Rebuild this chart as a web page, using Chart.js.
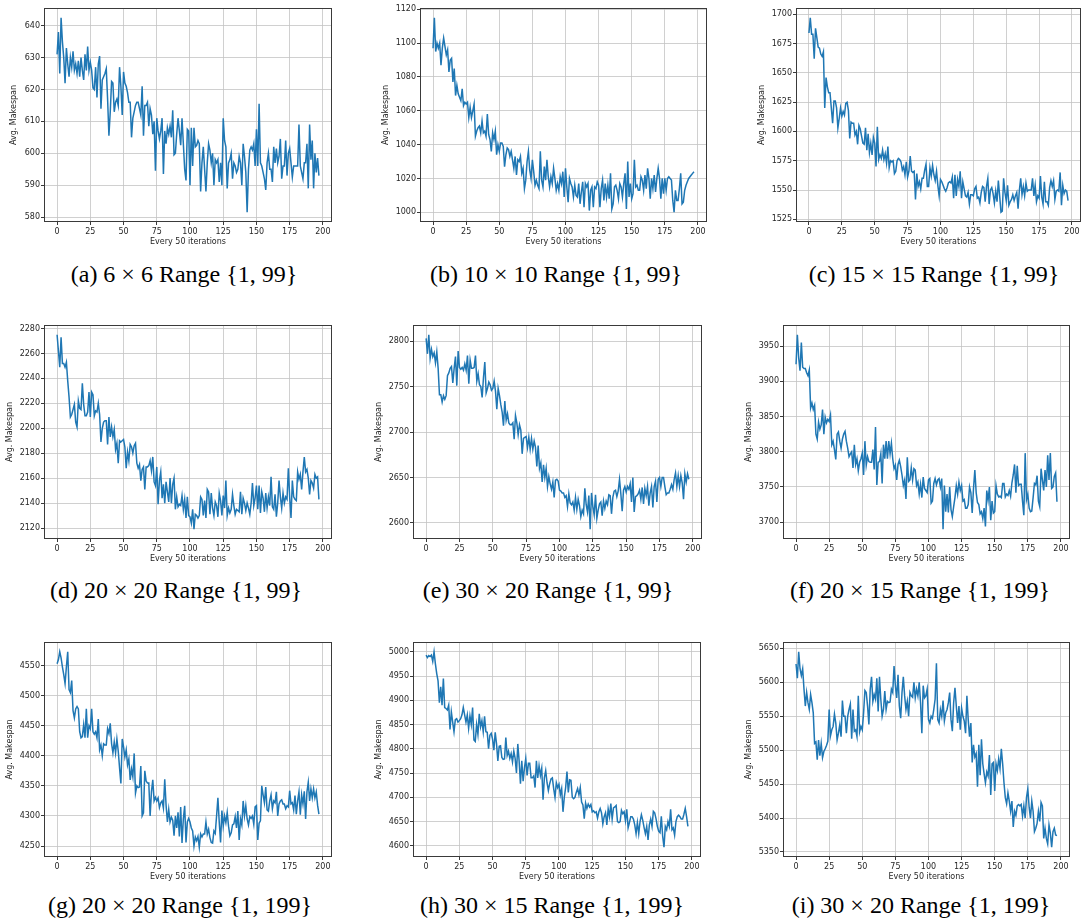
<!DOCTYPE html>
<html><head><meta charset="utf-8">
<script src="https://cdn.jsdelivr.net/npm/chart.js@4.4.1/dist/chart.umd.min.js"></script>
<style>
html,body{margin:0;padding:0;background:#fff;}
#fig{position:relative;width:1084px;height:924px;overflow:hidden;background:#fff;}
canvas{position:absolute;}
.cap{position:absolute;width:400px;text-align:center;font-family:'Liberation Serif','Times New Roman',serif;font-size:24px;line-height:24px;color:#000;white-space:nowrap;}
</style></head><body><div id="fig"></div>
<script>
const xTicks=[0,25,50,75,100,125,150,175,200];

const aValues=[631,638,625,642.5,635,630,622,633,628,624,
630,627,632,626,628,625,629,624,630,626,
623,631,626,633.5,626,628.5,626,620.5,620,627,
617.5,628,630.5,614,623,624,625,626.5,617,605.5,
613,622.5,622,613,616,617,615,627,621,612,
625.5,622,621,619,616,616,605,611,613,615,
616,616,614,612,621,605.5,615,615,616,608.5,
614,612,606,610,594.5,611,607,604.5,607,611,
593.5,607,603,608,606,608.5,605,613.5,599.5,600,
606,611,607,602.5,611,603,595,591.5,607.5,607,
590,608,596,608,602,602.5,604,603,588,597,
602,595,588,597,603,601,597,600,590,598,
597,598,591,597,590,611,604,602,589,597,
598,600,592,597,596,594,595,599,597,590,
603,599,594,581.5,595,601,602,601,603,596,
607.5,596,615.5,597,596,594,592,588.5,597,600,
595,595,591,602,597,601.5,597,599,604.5,592,
596,596,604,593,600,601.5,597,592.5,596,596,
596,596,609,596,594,592,597,597,603,589,
609,598,604,589,600,594,598.5,593];

const bValues=[1097,1115,1095,1100,1097,1100,1087,1097,1103,1098,
1093,1096,1083,1090,1091,1077,1085,1069,1075,1070,
1068,1066,1073,1063,1065,1064,1065,1056,1062,1056,
1060,1064,1045,1048,1050,1051,1047,1054,1047,1048,
1045,1058,1046,1043,1036,1047,1043,1048,1034,1040,
1036,1041,1041,1039,1027,1034,1038,1037,1033,1036,
1031,1026,1033,1022,1031,1030,1033,1023,1026,1014,
1019,1030,1036,1025,1020,1031,1024,1016,1019,1016,
1014,1036,1019,1015,1027,1019,1031,1021,1015,1021,
1017,1026,1020,1013,1017,1013,1021,1017,1024,1009,
1026,1015,1006,1020,1017,1015,1009,1016,1010,1009,
1017,1005,1012,1018,1003,1017,1015,1017,1001,1013,
1015,1003,1015,1014,1018,1016,1003,1014,1019,1007,
1017,1009,1016,1008,1023,1002,1005,1015,1016,1013,
1008,1017,1015,1009,1017,1023,1002,1030,1009,1017,
1008,1011,1031,1015,1016,1013,1013,1021,1019,1013,
1022,1014,1026,1020,1008,1020,1014,1022,1012,1020,
1026,1020,1008,1020,1011,1020,1013,1020,1021,1020,
1019,1007,1000,1013,1007,1007,1014,1023,1005,1006,
1013,1016,1018,1020,1021,1022,1023,1024];

const cValues=[1684,1697,1683,1683,1662,1688,1680,1672,1671,1666,
1664,1668,1620,1646,1638,1633,1633,1620,1607,1626,
1626,1620,1603,1611,1620,1613,1617,1614,1624,1625,
1618,1594,1608,1607,1607,1597,1600,1589,1605,1602,
1596,1590,1589,1603,1584,1598,1582,1590,1580,1595,
1590,1570,1604,1576,1580,1577,1584,1576,1581,1573,
1587,1569,1575,1574,1575,1564,1566,1575,1577,1576,
1574,1567,1570,1563,1574,1561,1566,1579,1566,1565,
1566,1542,1564,1553,1557,1551,1560,1560,1567,1572,
1553,1553,1569,1562,1571,1563,1558,1566,1554,1545,
1559,1557,1554,1551,1549,1552,1556,1557,1556,1561,
1543,1563,1545,1559,1553,1566,1543,1557,1551,1545,
1544,1548,1538,1546,1546,1545,1551,1553,1543,1544,
1539,1548,1553,1552,1540,1553,1560,1538,1550,1552,
1547,1539,1549,1540,1558,1545,1531,1532,1560,1548,
1541,1554,1537,1540,1542,1546,1541,1545,1548,1534,
1550,1560,1546,1553,1545,1556,1549,1550,1550,1550,
1560,1545,1554,1540,1545,1543,1562,1544,1538,1557,
1540,1540,1537,1552,1558,1553,1558,1542,1549,1550,
1549,1565,1537,1554,1547,1550,1549,1541];

const dValues=[2275,2262,2249,2273,2252,2252,2249,2253,2238,2225,
2209,2211,2215,2219,2205,2201,2222,2216,2215,2236,
2219,2210,2210,2213,2229,2209,2229,2227,2210,2214,
2213,2220,2211,2189,2200,2205,2206,2206,2187,2209,
2193,2201,2193,2199,2183,2188,2172,2190,2189,2190,
2191,2185,2168,2181,2174,2187,2185,2180,2186,2188,
2172,2168,2171,2158,2167,2169,2151,2169,2169,2170,
2174,2166,2177,2157,2154,2169,2139,2158,2165,2144,
2155,2140,2157,2149,2141,2160,2140,2155,2160,2135,
2145,2137,2139,2138,2146,2135,2143,2128,2145,2130,
2129,2124,2135,2119,2131,2130,2128,2130,2145,2143,
2130,2142,2128,2151,2149,2131,2148,2136,2130,2141,
2138,2129,2148,2142,2130,2146,2136,2158,2130,2136,
2132,2135,2147,2138,2131,2135,2134,2133,2149,2131,
2144,2140,2134,2140,2136,2131,2140,2156,2138,2144,
2154,2135,2154,2132,2149,2144,2133,2148,2136,2145,
2138,2161,2137,2135,2147,2129,2140,2158,2145,2136,
2148,2140,2145,2143,2168,2145,2128,2158,2145,2143,
2142,2165,2159,2163,2151,2165,2177,2165,2167,2160,
2147,2158,2156,2152,2163,2160,2161,2143];

const eValues=[2803,2786,2807,2781,2791,2783,2787,2776,2788,2770,
2741,2741,2733,2740,2736,2740,2762,2765,2770,2772,
2754,2770,2783,2751,2789,2771,2769,2771,2768,2775,
2768,2784,2753,2779,2770,2770,2771,2784,2756,2764,
2752,2750,2738,2760,2777,2743,2748,2755,2752,2746,
2748,2756,2745,2725,2748,2740,2730,2722,2707,2734,
2713,2720,2710,2708,2708,2710,2692,2718,2710,2697,
2708,2702,2676,2693,2694,2695,2683,2694,2681,2693,
2681,2690,2683,2662,2685,2660,2666,2645,2664,2650,
2660,2640,2651,2643,2637,2645,2628,2647,2648,2646,
2636,2635,2633,2633,2628,2630,2618,2632,2622,2620,
2623,2614,2628,2615,2626,2619,2607,2614,2610,2638,
2620,2612,2630,2593,2633,2618,2609,2631,2605,2614,
2621,2623,2608,2624,2616,2624,2620,2631,2630,2610,
2628,2635,2636,2629,2635,2648,2632,2613,2636,2640,
2634,2640,2637,2643,2623,2650,2612,2629,2630,2632,
2636,2626,2639,2621,2638,2630,2640,2619,2633,2640,
2617,2640,2646,2623,2648,2650,2640,2650,2650,2640,
2631,2633,2633,2637,2642,2637,2648,2655,2640,2652,
2640,2652,2644,2626,2654,2645,2654,2648];

const fValues=[3924,3966,3933,3915,3955,3920,3918,3918,3912,3908,
3916,3862,3869,3860,3866,3825,3818,3842,3832,3838,
3860,3825,3849,3841,3846,3843,3852,3810,3815,3803,
3789,3825,3828,3815,3805,3818,3825,3829,3815,3805,
3793,3797,3800,3777,3810,3782,3790,3773,3785,3790,
3798,3767,3815,3781,3793,3786,3785,3785,3803,3775,
3835,3753,3785,3786,3797,3755,3810,3790,3815,3790,
3815,3797,3812,3790,3776,3781,3760,3782,3788,3779,
3767,3752,3760,3733,3792,3758,3760,3777,3760,3776,
3774,3752,3757,3740,3754,3735,3764,3748,3745,3742,
3760,3762,3727,3730,3755,3762,3753,3760,3762,3750,
3762,3690,3752,3715,3740,3714,3750,3718,3708,3722,
3735,3752,3740,3757,3745,3752,3730,3732,3720,3720,
3725,3750,3742,3713,3748,3774,3742,3728,3725,3712,
3715,3705,3720,3694,3745,3731,3750,3703,3730,3713,
3715,3752,3740,3736,3737,3735,3755,3755,3736,3740,
3738,3745,3737,3756,3767,3782,3742,3780,3752,3754,
3754,3730,3710,3798,3732,3740,3720,3715,3716,3735,
3755,3753,3766,3730,3722,3776,3760,3745,3774,3750,
3795,3760,3798,3748,3750,3765,3770,3729];

const gValues=[4553,4560,4573,4563,4548,4535,4520,4548,4573,4510,
4505,4525,4475,4463,4478,4482,4478,4440,4430,4432,
4452,4430,4478,4430,4450,4445,4478,4440,4436,4440,
4430,4461,4410,4418,4400,4420,4418,4418,4445,4437,
4454,4420,4405,4423,4405,4428,4408,4380,4354,4428,
4415,4398,4410,4385,4395,4360,4378,4365,4404,4338,
4350,4347,4348,4383,4300,4305,4375,4358,4355,4355,
4300,4340,4360,4325,4331,4325,4330,4314,4322,4325,
4313,4361,4318,4290,4311,4290,4298,4293,4267,4300,
4280,4306,4266,4315,4255,4295,4317,4256,4290,4296,
4290,4280,4275,4250,4265,4259,4266,4248,4270,4265,
4270,4270,4290,4270,4278,4264,4256,4255,4275,4271,
4300,4330,4290,4256,4309,4283,4300,4289,4306,4283,
4267,4272,4285,4287,4299,4280,4308,4260,4295,4285,
4325,4300,4317,4295,4285,4299,4296,4300,4286,4315,
4317,4260,4288,4292,4350,4335,4322,4348,4310,4308,
4325,4335,4312,4325,4322,4340,4300,4320,4325,4327,
4320,4320,4312,4317,4315,4342,4320,4322,4310,4334,
4303,4325,4340,4302,4335,4320,4341,4295,4340,4356,
4325,4345,4330,4345,4330,4340,4318,4303];

const hValues=[4993,4988,4992,4990,4993,4980,5000,4975,4955,4940,
4895,4928,4890,4945,4885,4883,4880,4890,4840,4876,
4855,4835,4860,4862,4855,4858,4862,4870,4885,4870,
4855,4870,4842,4868,4850,4885,4818,4815,4850,4830,
4872,4845,4858,4835,4867,4835,4834,4800,4828,4832,
4820,4797,4834,4810,4775,4805,4806,4782,4778,4779,
4823,4786,4795,4780,4790,4773,4795,4780,4750,4810,
4775,4728,4775,4733,4760,4780,4745,4770,4770,4740,
4740,4744,4720,4775,4740,4765,4745,4760,4695,4740,
4755,4730,4714,4728,4738,4740,4718,4700,4730,4720,
4727,4705,4718,4670,4700,4720,4753,4710,4736,4735,
4700,4697,4700,4710,4718,4705,4720,4690,4684,4656,
4688,4677,4686,4680,4685,4670,4672,4668,4670,4657,
4670,4677,4668,4645,4660,4668,4643,4676,4660,4687,
4655,4678,4680,4683,4650,4648,4650,4673,4666,4670,
4652,4675,4637,4648,4660,4660,4655,4643,4625,4648,
4625,4650,4664,4653,4638,4625,4640,4612,4643,4655,
4640,4671,4668,4656,4640,4630,4627,4661,4620,4597,
4640,4633,4650,4640,4675,4633,4637,4622,4650,4660,
4663,4660,4655,4655,4665,4677,4660,4640];

const iValues=[5627,5606,5645,5620,5610,5620,5590,5565,5585,5570,
5560,5582,5570,5555,5510,5512,5486,5515,5492,5510,
5489,5498,5502,5507,5513,5560,5521,5530,5535,5553,
5540,5515,5525,5537,5520,5573,5550,5550,5525,5550,
5560,5568,5517,5560,5528,5530,5520,5580,5527,5535,
5530,5555,5588,5585,5565,5538,5590,5608,5572,5582,
5575,5606,5557,5608,5575,5550,5560,5587,5560,5572,
5570,5571,5590,5585,5624,5595,5577,5611,5565,5547,
5585,5608,5580,5560,5572,5550,5585,5580,5578,5600,
5577,5590,5580,5600,5570,5525,5595,5577,5580,5590,
5545,5540,5550,5547,5560,5575,5628,5545,5540,5560,
5550,5573,5543,5555,5560,5570,5585,5545,5528,5570,
5592,5565,5540,5565,5530,5562,5550,5543,5525,5580,
5545,5520,5540,5482,5508,5490,5495,5446,5508,5463,
5516,5480,5465,5452,5468,5462,5493,5434,5480,5482,
5440,5480,5470,5487,5473,5502,5480,5452,5430,5421,
5437,5425,5410,5425,5387,5410,5404,5418,5420,5418,
5420,5403,5418,5400,5430,5443,5416,5400,5425,5410,
5380,5385,5392,5410,5395,5423,5418,5370,5385,5370,
5362,5390,5378,5357,5380,5385,5375,5374];

const aYTicks=[580,590,600,610,620,630,640];
const bYTicks=[1000,1020,1040,1060,1080,1100,1120];
const cYTicks=[1525,1550,1575,1600,1625,1650,1675,1700];
const dYTicks=[2120,2140,2160,2180,2200,2220,2240,2260,2280];
const eYTicks=[2600,2650,2700,2750,2800];
const fYTicks=[3700,3750,3800,3850,3900,3950];
const gYTicks=[4250,4300,4350,4400,4450,4500,4550];
const hYTicks=[4600,4650,4700,4750,4800,4850,4900,4950,5000];
const iYTicks=[5350,5400,5450,5500,5550,5600,5650];

const captions=[
 '(a) 6 × 6 Range {1, 99}','(b) 10 × 10 Range {1, 99}','(c) 15 × 15 Range {1, 99}',
 '(d) 20 × 20 Range {1, 99}','(e) 30 × 20 Range {1, 99}','(f) 20 × 15 Range {1, 199}',
 '(g) 20 × 20 Range {1, 199}','(h) 30 × 15 Range {1, 199}','(i) 30 × 20 Range {1, 199}'];
const xTitle='Every 50 iterations';
const yTitle='Avg. Makespan';

// layout (plot-area boxes and caption anchors)
const layout=[
 {vals:aValues,yt:aYTicks,L:44,R:332,T:8,B:222,tp:9.2,cx:184,cy:282},
 {vals:bValues,yt:bYTicks,L:420,R:707,T:8,B:222,tp:5.2,cx:556,cy:282},
 {vals:cValues,yt:cYTicks,L:796,R:1081,T:8,B:222,tp:5.2,cx:934,cy:282},
 {vals:dValues,yt:dYTicks,L:44,R:332,T:325,B:539,tp:5.2,cx:176,cy:598},
 {vals:eValues,yt:eYTicks,L:413,R:702,T:325,B:539,tp:5.2,cx:548,cy:598},
 {vals:fValues,yt:fYTicks,L:783,R:1070,T:325,B:539,tp:5.2,cx:920,cy:598},
 {vals:gValues,yt:gYTicks,L:44,R:332,T:642,B:857,tp:5.2,cx:180,cy:913},
 {vals:hValues,yt:hYTicks,L:413,R:701,T:642,B:857,tp:5.2,cx:552,cy:913},
 {vals:iValues,yt:iYTicks,L:783,R:1070,T:642,B:857,tp:5.2,cx:921,cy:913}
];

Chart.defaults.font.family="'DejaVu Sans', sans-serif";
Chart.defaults.font.size=8;
Chart.defaults.color='#262626';

const framePlugin={id:'frame',afterDatasetsDraw(chart){
  const a=chart.chartArea,c=chart.ctx;c.save();c.strokeStyle='#3a3a3a';c.lineWidth=1;
  c.strokeRect(Math.round(a.left)+0.5,Math.round(a.top)+0.5,Math.round(a.right-a.left)-1,Math.round(a.bottom-a.top)-1);
  c.restore();}};

const fig=document.getElementById('fig');
const YW=44, XH=25, PT=4, PR=3;
layout.forEach((p,k)=>{
  const cv=document.createElement('canvas');
  const w=p.R-p.L+YW+PR, h=p.B-p.T+PT+XH;
  cv.width=w;cv.height=h;cv.style.width=w+'px';cv.style.height=h+'px';
  cv.style.left=(p.L-YW)+'px';cv.style.top=(p.T-PT)+'px';
  fig.appendChild(cv);
  const mn=Math.min(...p.vals), mx=Math.max(...p.vals), rg=mx-mn;
  const n=p.vals.length-1;
  new Chart(cv.getContext('2d'),{
    type:'line',
    data:{datasets:[{data:p.vals.map((v,i)=>({x:i,y:v})),borderColor:'#1f77b4',borderWidth:1.5,pointRadius:0,tension:0,fill:false}]},
    options:{responsive:false,animation:false,devicePixelRatio:1,
      layout:{padding:{top:PT,right:PR,left:0,bottom:0}},
      plugins:{legend:{display:false},tooltip:{enabled:false}},
      scales:{
        x:{type:'linear',min:-0.05*n,max:n*1.05,
          afterBuildTicks:ax=>{ax.ticks=xTicks.map(v=>({value:v}));},
          ticks:{padding:2,autoSkip:false,maxRotation:0,callback:v=>String(v)},
          grid:{color:'#c4c4c4',lineWidth:0.8,tickLength:3,tickColor:'#3a3a3a',tickWidth:1},
          border:{display:false},
          title:{display:true,text:xTitle,padding:{top:0,bottom:0},font:{size:8}},
          afterFit:s=>{s.height=XH;s.paddingLeft=0;s.paddingRight=0;s.paddingTop=0;s.paddingBottom=0;}},
        y:{type:'linear',min:mn-0.05*rg,max:mx+0.05*rg,
          afterBuildTicks:ax=>{ax.ticks=p.yt.map(v=>({value:v}));},
          ticks:{padding:1,autoSkip:false,callback:v=>String(v)},
          grid:{color:'#c4c4c4',lineWidth:0.8,tickLength:3,tickColor:'#3a3a3a',tickWidth:1},
          border:{display:false},
          title:{display:true,text:yTitle,padding:{top:p.tp,bottom:0},font:{size:8}},
          afterFit:s=>{s.width=YW;s.paddingLeft=0;s.paddingRight=0;s.paddingTop=0;s.paddingBottom=0;}}
      }},
    plugins:[framePlugin]
  });
  const d=document.createElement('div');d.className='cap';d.textContent=captions[k];
  d.style.left=(p.cx-200)+'px';d.style.top=(p.cy-20)+'px';fig.appendChild(d);
});
</script></body></html>
